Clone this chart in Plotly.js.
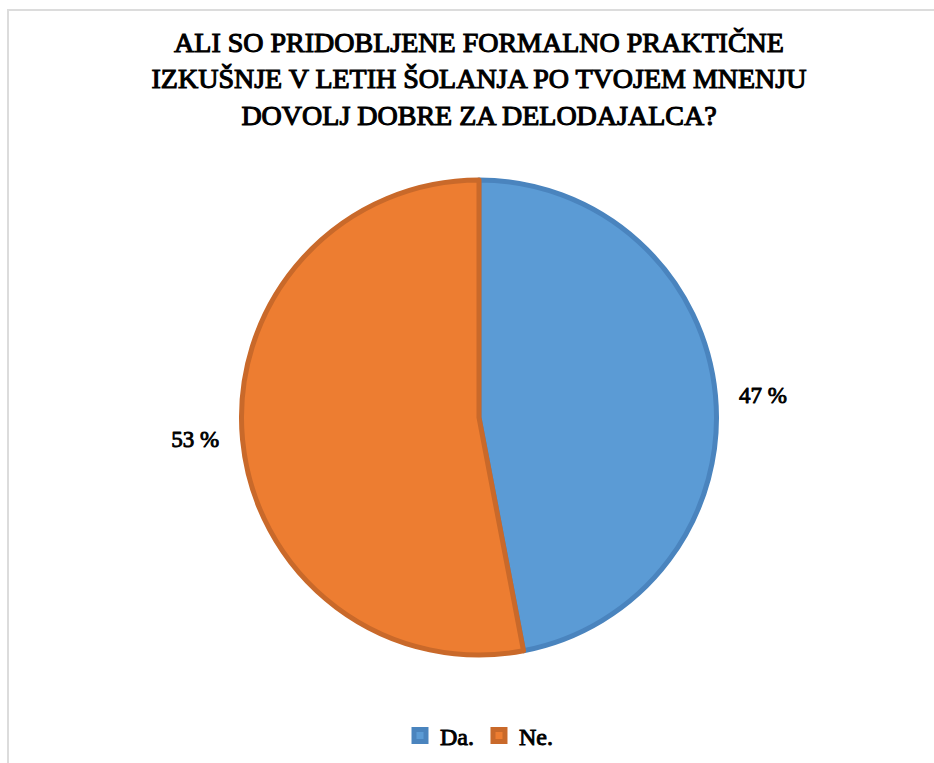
<!DOCTYPE html>
<html>
<head>
<meta charset="utf-8">
<script src="https://cdn.plot.ly/plotly-3.0.1.min.js"></script>
<style>
  html, body { margin: 0; padding: 0; background: #fff; }
  #wrap { position: relative; width: 934px; height: 763px; }
  #chart { width: 934px; height: 763px; }
  #frame { position: absolute; left: 7px; top: 9px; right: 0; bottom: 0;
           border-left: 2px solid #dcdcdc; border-top: 2px solid #dcdcdc;
           pointer-events: none; }
  /* Liberation Serif has no bold face here: thicken the regular strokes */
  #chart svg text { stroke: #000; stroke-width: 0.9px; }
  #chart svg .gtitle { stroke-width: 1.1px; }
</style>
</head>
<body>
<div id="wrap">
  <div id="chart"></div>
  <div id="frame"></div>
</div>
<script>
const categories = ["Da.", "Ne."];
const values = [47, 53];
const fillColors = ["#5B9BD5", "#ED7D31"];
const borderColors = ["#4A84BE", "#C9692A"];
const titleLines = [
  "ALI SO PRIDOBLJENE FORMALNO PRAKTIČNE",
  "IZKUŠNJE V LETIH ŠOLANJA PO TVOJEM MNENJU",
  "DOVOLJ DOBRE ZA DELODAJALCA?"
];

const serif = "Liberation Serif";
const pad = "\u00A0\u00A0\u00A0";

const trace = {
  type: "pie",
  labels: categories,
  values: values,
  sort: false,
  direction: "clockwise",
  rotation: 0,
  marker: { colors: fillColors, line: { color: borderColors, width: 5 } },
  textposition: "outside",
  texttemplate: [pad + "%{value} %", "%{value} %" + pad],
  outsidetextfont: { family: serif, size: 23, color: "#000" },
  hoverinfo: "label+percent",
  automargin: false
};

const layout = {
  width: 934,
  height: 763,
  paper_bgcolor: "#fff",
  font: { family: serif },
  margin: { l: 100, r: 76, t: 180, b: 108 },
  title: {
    text: titleLines.join("<br>"),
    font: { family: serif, size: 28, color: "#000" },
    x: 0.5, xref: "paper", xanchor: "center",
    y: 1 - 52 / 763, yref: "container", yanchor: "top"
  },
  showlegend: true,
  legend: {
    orientation: "h",
    x: 0.5, xanchor: "center", xref: "paper",
    y: 27 / 763, yanchor: "middle", yref: "container",
    font: { family: serif, size: 24, color: "#000" },
    itemwidth: 30,
    traceorder: "normal"
  }
};

Plotly.newPlot("chart", [trace], layout, { displayModeBar: false, staticPlot: true });
</script>
</body>
</html>
